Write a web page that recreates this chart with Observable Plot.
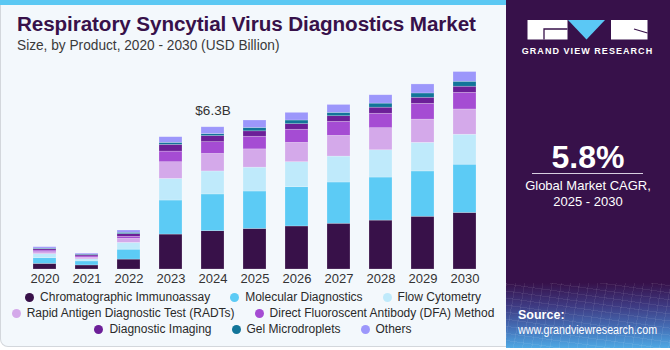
<!DOCTYPE html>
<html>
<head>
<meta charset="utf-8">
<script src="https://cdn.jsdelivr.net/npm/d3@7"></script>
<script src="https://cdn.jsdelivr.net/npm/@observablehq/plot@0.6"></script>
<style>
  html, body { margin: 0; padding: 0; background: #ffffff; }
  body { width: 670px; height: 350px; overflow: hidden; font-family: "Liberation Sans", Arial, sans-serif; }
  #wrap { position: relative; width: 670px; height: 350px; }
  #left { position: absolute; left: 0; top: 0; width: 505px; height: 346px; background: #f3f8fc;
          border: 1px solid #d3d7dc; border-top: none; border-radius: 0 0 0 8px; box-sizing: content-box; }
  #stripe { position: absolute; left: 0; top: 0; width: 506px; height: 5px; background: #5bc8f3; }
  #title { position: absolute; left: 17px; top: 13px; font-size: 19.5px; font-weight: 900; color: #37114a;
           white-space: nowrap; transform-origin: left top; letter-spacing: -0.1px; }
  #subtitle { position: absolute; left: 17px; top: 37px; font-size: 14px; color: #3a3a3a; white-space: nowrap;
              transform-origin: left top; }
  #chart { position: absolute; left: 0; top: 0; }
  #legend { position: absolute; left: 0; top: 289px; width: 506px; font-size: 12px; color: #2a2a2a; }
  .row { display: flex; justify-content: center; gap: 20px; height: 16px; align-items: center; }
  .item { display: flex; align-items: center; white-space: nowrap; }
  .dot { width: 9px; height: 9px; border-radius: 50%; margin-right: 6px; }
  #right { position: absolute; left: 506px; top: 0; width: 164px; height: 348px; background: #37114a; overflow: hidden; }
  #rbottom { position: absolute; left: 0; top: 283px; width: 164px; height: 65px;
     background:
       repeating-linear-gradient(100deg, rgba(255,255,255,0.07) 0 1px, transparent 1px 9px),
       repeating-linear-gradient(8deg, rgba(255,255,255,0.07) 0 1px, transparent 1px 7px),
       linear-gradient(to bottom, #37114a 0%, #3e3a82 35%, #4571b8 70%, #4ea9e4 100%); }
  .rt { position: absolute; left: 0; width: 164px; text-align: center; color: #ffffff; white-space: nowrap; }
  #url { position: absolute; left: 12px; top: 323px; color: #fff; font-size: 12px; white-space: nowrap; transform-origin: left top; }
</style>
</head>
<body>
<div id="wrap">
  <div id="left"></div>
  <div id="stripe"></div>
  <div id="chart"></div>
  <div id="title">Respiratory Syncytial Virus Diagnostics Market</div>
  <div id="subtitle">Size, by Product, 2020 - 2030 (USD Billion)</div>
  <div id="legend"></div>
  <div id="right">
    <svg width="164" height="60" style="position:absolute;left:0;top:0">
      <rect x="21.5" y="20" width="40" height="19.5" fill="#ffffff"/>
      <path d="M38 39.5 V29 H61.5" fill="none" stroke="#37114a" stroke-width="1.3"/>
      <polygon points="62,20 99,20 80.5,39.5" fill="#5bc8f5"/>
      <rect x="105" y="20" width="36.5" height="19.5" fill="#ffffff"/>
      <path d="M128 29 L141.5 33" fill="none" stroke="#37114a" stroke-width="1.3"/>
      <text x="81.5" y="53.5" text-anchor="middle" fill="#ffffff" font-family="Liberation Sans, Arial" font-weight="700" font-size="9" letter-spacing="1.05">GRAND VIEW RESEARCH</text>
    </svg>
    <div class="rt" style="top:139px;font-size:32px;font-weight:700;">5.8%</div>
    <div style="position:absolute;left:26px;top:173px;width:111px;height:1px;background:#d8cfe0;"></div>
    <div class="rt" style="top:178px;font-size:13px;line-height:16px;">Global Market CAGR,<br>2025 - 2030</div>
    <div id="rbottom"></div>
    <div style="position:absolute;left:12px;top:308px;color:#fff;font-size:12.5px;font-weight:700;">Source:</div>
    <div id="url">www.grandviewresearch.com</div>
  </div>
</div>
<script>
const years = ["2020","2021","2022","2023","2024","2025","2026","2027","2028","2029","2030"];
const categories = ["Chromatographic Immunoassay","Molecular Diagnostics","Flow Cytometry",
  "Rapid Antigen Diagnostic Test (RADTs)","Direct Fluoroscent Antibody (DFA) Method",
  "Diagnostic Imaging","Gel Microdroplets","Others"];
const colors = ["#381149","#5ccbf5","#bfeafb","#d4a9ea","#a54cd3","#6c1f98","#127599","#9c97fb"];

const chromatographic = [0.25,0.18,0.44,1.55,1.70,1.80,1.91,2.03,2.17,2.34,2.51];
const molecular       = [0.25,0.18,0.44,1.51,1.63,1.66,1.74,1.83,1.91,2.01,2.14];
const flowCytometry   = [0.18,0.09,0.30,0.96,1.02,1.06,1.11,1.15,1.21,1.27,1.33];
const radts           = [0.09,0.07,0.18,0.74,0.78,0.81,0.86,0.92,0.98,1.03,1.12];
const dfa             = [0.07,0.06,0.09,0.47,0.52,0.56,0.58,0.62,0.64,0.70,0.74];
const imaging         = [0.06,0.06,0.12,0.30,0.27,0.24,0.25,0.25,0.27,0.27,0.27];
const gel             = [0.03,0.03,0.06,0.09,0.09,0.15,0.16,0.15,0.18,0.19,0.22];
const others          = [0.06,0.04,0.10,0.25,0.30,0.33,0.34,0.35,0.37,0.40,0.43];
const series = [chromatographic, molecular, flowCytometry, radts, dfa, imaging, gel, others];

const annotations = [{year: "2024", label: "$6.3B"}];

const rows = [];
categories.forEach((c, i) => years.forEach((y, j) => rows.push({year: y, category: c, value: series[i][j]})));
const totals = years.map((y, j) => d3.sum(series, s => s[j]));
const annRows = annotations.map(a => ({...a, total: totals[years.indexOf(a.year)]}));

const chart = Plot.plot({
  width: 505, height: 290,
  marginLeft: 23.7, marginRight: 20.3, marginTop: 43.6, marginBottom: 21,
  style: {background: "transparent", fontFamily: "Liberation Sans, Arial, sans-serif"},
  x: {type: "band", domain: years, paddingInner: 0.45, paddingOuter: 0.2, axis: null},
  y: {domain: [0, 10], axis: null},
  color: {domain: categories, range: colors},
  marks: [
    Plot.barY(rows, {x: "year", y: "value", fill: "category", stroke: "#ffffff", strokeOpacity: 0.35, strokeWidth: 0.6}),
    Plot.axisX({tickSize: 0, tickPadding: 4.5, fontSize: 13, fill: "#333333", label: null}),
    Plot.text(annRows, {x: "year", y: "total", text: "label", dy: -17, fontSize: 13.5, fill: "#333333"})
  ]
});
document.getElementById("chart").appendChild(chart);

// legend rows
const legend = document.getElementById("legend");
[[0,3],[3,5],[5,8]].forEach(([a,b]) => {
  const row = document.createElement("div");
  row.className = "row";
  for (let i = a; i < b; i++) {
    const it = document.createElement("div");
    it.className = "item";
    it.innerHTML = `<span class="dot" style="background:${colors[i]}"></span><span>${categories[i]}</span>`;
    row.appendChild(it);
  }
  legend.appendChild(row);
});

// fit text widths
function fit(id, w) {
  const el = document.getElementById(id);
  el.style.transform = `scaleX(${w / el.offsetWidth})`;
}
fit("title", 459);
fit("subtitle", 262);
fit("url", 139);
</script>
</body>
</html>
